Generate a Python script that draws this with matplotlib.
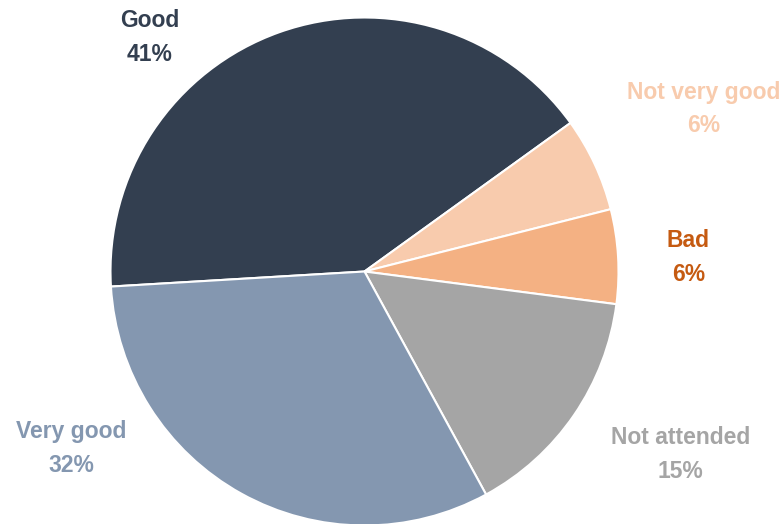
import matplotlib
matplotlib.use("Agg")
import matplotlib.pyplot as plt

# data (clockwise from the left side)
labels = ["Good", "Not very good", "Bad", "Not attended", "Very good"]
values = [41, 6, 6, 15, 32]
colors = ["#333F50", "#F8CBAD", "#F4B183", "#A5A5A5", "#8497B0"]
label_colors = ["#333F50", "#F8CBAD", "#C55A11", "#A5A5A5", "#8497B0"]
# label centres in data units (pie radius = 1)
label_pos = [(-0.845, 0.92), (1.335, 0.64), (1.275, 0.055), (1.245, -0.72), (-1.155, -0.698)]

W, H = 784, 524
fig = plt.figure(figsize=(W / 100, H / 100), dpi=100)
cx, cy, r = 364.5, 271.5, 254
ax = fig.add_axes([(cx - r) / W, (H - cy - r) / H, 2 * r / W, 2 * r / H])

ax.pie(values, colors=colors, startangle=183.4, counterclock=False,
       radius=1, wedgeprops=dict(edgecolor="white", linewidth=1.5))

for lab, v, (x, y), c in zip(labels, values, label_pos, label_colors):
    ax.text(x, y, f"{lab}\n{v}%", ha="center", va="center", color=c,
            fontsize=16.5, fontweight="bold", family="Liberation Sans",
            linespacing=1.6, clip_on=False)

ax.set_xlim(-1, 1)
ax.set_ylim(-1, 1)
ax.set_aspect("equal")
ax.axis("off")

fig.savefig("out.png", dpi=100)
